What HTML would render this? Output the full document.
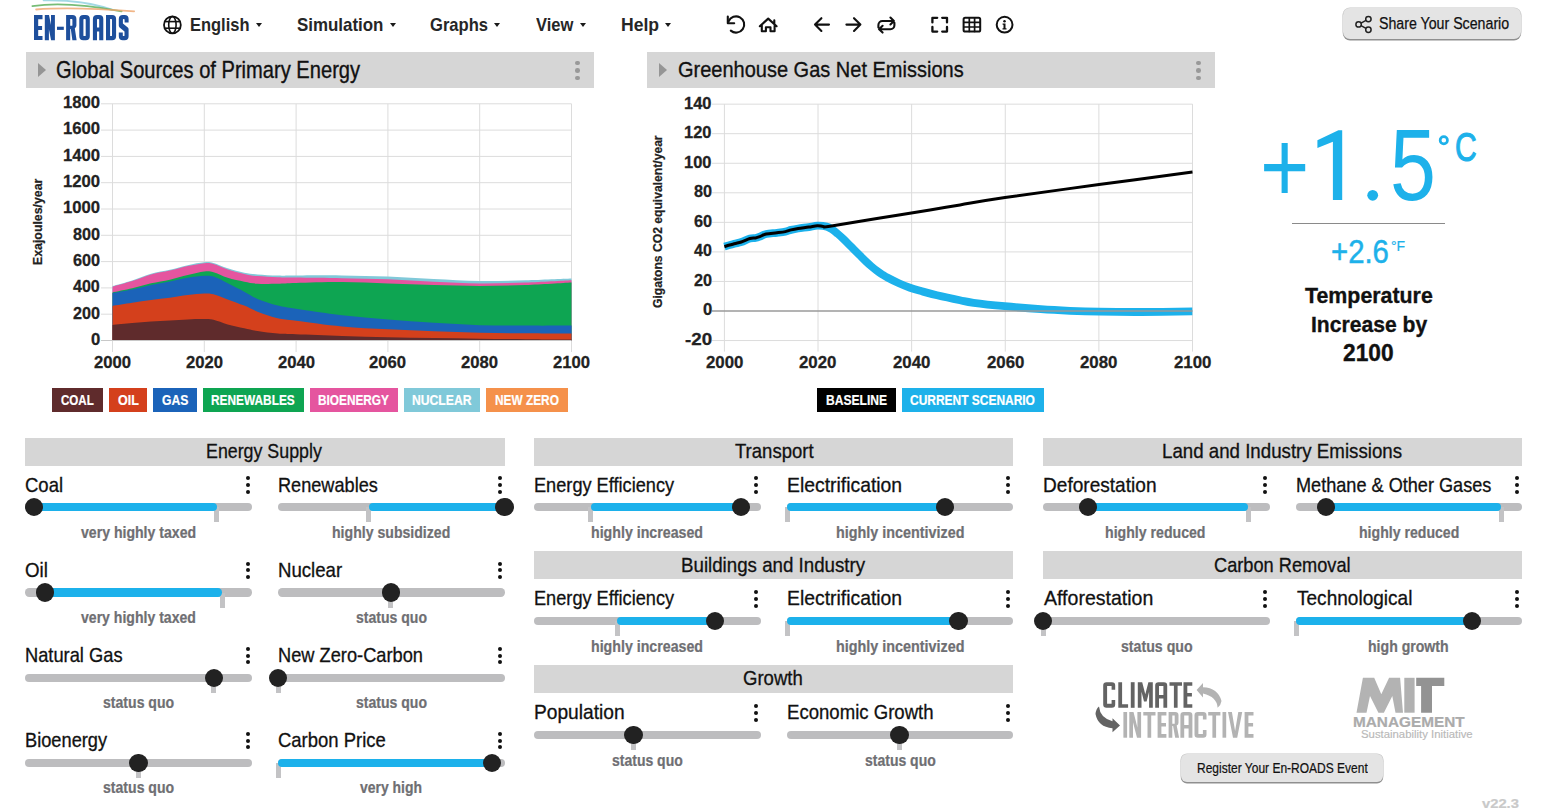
<!DOCTYPE html>
<html lang="en"><head><meta charset="utf-8"><title>En-ROADS</title>
<style>
html,body{margin:0;padding:0;background:#fff;width:1548px;height:810px;overflow:hidden;position:relative;font-family:"Liberation Sans",sans-serif}
.full{position:absolute;left:0;top:0}
.t{position:absolute;white-space:nowrap;line-height:0;transform-origin:0 0}
.dot{position:absolute;width:4.2px;height:4.2px;border-radius:50%;background:#111}
.trk{position:absolute;height:8.4px;border-radius:4.2px;background:#bdbdbf}
.fill{position:absolute;height:8.4px;border-radius:4.2px;background:#1cb1eb}
.tick{position:absolute;width:5px;height:15px;background:#c3c3c5}
.knob{position:absolute;width:18.4px;height:18.4px;border-radius:50%;background:#222}
.caret{position:absolute;top:22.7px;width:0;height:0;border-left:3.9px solid transparent;border-right:3.9px solid transparent;border-top:4.3px solid #1a1a1a;margin-left:-0.3px}
.pbar{position:absolute;top:52.2px;height:36.3px;background:#d6d6d6}
.tri{position:absolute;width:0;height:0;border-top:7.5px solid transparent;border-bottom:7.5px solid transparent;border-left:8.8px solid #959595}
.gdot{position:absolute;width:4.6px;height:4.6px;border-radius:50%;background:#999}
.btn{position:absolute;background:#e4e4e4;border-radius:6px;box-shadow:0 1.5px 0 #8f8f8f, 0 0 0 0.6px #c8c8c8}
</style></head><body>
<!-- header logo -->
<svg class="full" width="1548" height="810" viewBox="0 0 1548 810" style="z-index:0">
  <g fill="none" stroke-linecap="round">
    <path d="M43.6,0.3 Q82,-0.5 112,9.6" stroke="#7cc9d8" stroke-width="1.8" stroke-opacity="0.7"/>
    <path d="M32.4,6.1 C52,3 78,3 121.6,11.3" stroke="#55ad55" stroke-width="1.8" stroke-opacity="0.8"/>
    <path d="M36.1,9.5 Q72,6.6 134.2,11.3" stroke="#eea46a" stroke-width="1.8" stroke-opacity="0.8"/>
  </g>
  <g fill="#1e4f9c">
    <!-- E -->
    <path d="M34,15 h8.5 v4.2 h-4.3 v6.9 h3.9 v3.8 h-3.9 v6 h4.3 v4.2 h-8.5 z"/>
    <!-- N -->
    <path d="M44.8,15 h4.2 l2,10 v-10 h3.9 v25.2 h-3.8 l-2.2,-11 v11 h-4.1 z"/>
    <!-- hyphen -->
    <rect x="57" y="26.7" width="6.8" height="3.2"/>
    <!-- R -->
    <path d="M66.1,15 h6.3 a4,4 0 0 1 4,4 v6.5 a3,3 0 0 1 -1.6,2.7 l1.8,12 h-4.2 l-1.6,-11.2 h-0.6 v11.2 h-4.1 z M70.2,19.1 v6.7 h1.6 a0.6,0.6 0 0 0 0.6,-0.6 v-5.5 a0.6,0.6 0 0 0 -0.6,-0.6 z"/>
    <!-- O -->
    <path d="M83.3,15 h2.5 a4,4 0 0 1 4,4 v17.2 a4,4 0 0 1 -4,4 h-2.5 a4,4 0 0 1 -4,-4 v-17.2 a4,4 0 0 1 4,-4 z M84.1,19.1 a0.7,0.7 0 0 0 -0.7,0.7 v15.6 a0.7,0.7 0 0 0 0.7,0.7 h0.9 a0.7,0.7 0 0 0 0.7,-0.7 v-15.6 a0.7,0.7 0 0 0 -0.7,-0.7 z"/>
    <!-- A -->
    <path d="M96.9,15 h2.4 a4,4 0 0 1 4,4 v21.2 h-4.1 v-8.7 h-2.2 v8.7 h-4.1 v-21.2 a4,4 0 0 1 4,-4 z M97.7,19.1 a0.7,0.7 0 0 0 -0.7,0.7 v7.7 h2.2 v-7.7 a0.7,0.7 0 0 0 -0.7,-0.7 z"/>
    <!-- D -->
    <path d="M106,15 h6.1 a4,4 0 0 1 4,4 v17.2 a4,4 0 0 1 -4,4 h-6.1 z M110.1,19.1 v17 h1.2 a0.7,0.7 0 0 0 0.7,-0.7 v-15.6 a0.7,0.7 0 0 0 -0.7,-0.7 z"/>
    <!-- S -->
    <path d="M122.8,15 h1.8 a4,4 0 0 1 4,4 v3.5 h-4 v-2.7 a0.7,0.7 0 0 0 -0.7,-0.7 h-0.3 a0.7,0.7 0 0 0 -0.7,0.7 v3.6 l4.9,4.2 a2.4,2.4 0 0 1 0.8,1.8 v6.8 a4,4 0 0 1 -4,4 h-1.8 a4,4 0 0 1 -4,-4 v-3.6 h4 v2.8 a0.7,0.7 0 0 0 0.7,0.7 h0.3 a0.7,0.7 0 0 0 0.7,-0.7 v-3.8 l-4.9,-4.2 a2.4,2.4 0 0 1 -0.8,-1.8 v-6.6 a4,4 0 0 1 4,-4 z"/>
  </g>
  <!-- globe -->
  <g fill="none" stroke="#111" stroke-width="1.8">
    <circle cx="172.4" cy="24.9" r="8.4"/>
    <ellipse cx="172.4" cy="24.9" rx="3.7" ry="8.4" stroke-width="1.6"/>
    <line x1="164.6" y1="21.6" x2="180.2" y2="21.6" stroke-width="1.6"/>
    <line x1="164.6" y1="28.2" x2="180.2" y2="28.2" stroke-width="1.6"/>
  </g>
  <!-- toolbar icons -->
  <g fill="none" stroke="#111" stroke-width="2.1" stroke-linecap="round" stroke-linejoin="round">
    <path d="M727.8,16.6 V23.2 H734.2"/>
    <path d="M728.6,21.4 A8.1,8.1 0 1 1 730.8,30.6"/>
    <path d="M759.8,26.2 L768.2,18.6 L776.6,26.2 M774.3,20.2 V24.2 M761.8,24.8 V31.2 H765.9 V27.2 H770.5 V31.2 H774.6 V24.8"/>
    <path d="M829,24.6 H815.2 M821.4,18.2 L815,24.6 L821.4,31"/>
    <path d="M846.4,24.6 H860.4 M854,18.2 L860.4,24.6 L854,31"/>
    <path d="M878.4,27.4 V25 A4,4 0 0 1 882.4,21 H893.8 M890.4,17.6 L893.9,21 L890.4,24.4 M894.4,22.8 V25.2 A4,4 0 0 1 890.4,29.2 H879.2 M882.6,25.8 L879.1,29.2 L882.6,32.6"/>
    <path d="M932.4,22.4 v-4.6 h4.8 M942.2,17.8 h4.8 v4.6 M947,27 v4.6 h-4.8 M937.2,31.6 h-4.8 v-4.6" stroke-width="2.3"/>
    <rect x="963.6" y="17.8" width="16.6" height="13.8" rx="1.6" stroke-width="2"/>
    <path d="M969.3,18 v13.4 M974.6,18 v13.4 M963.8,22.4 h16.2 M963.8,27 h16.2" stroke-width="1.7"/>
    <circle cx="1004.6" cy="24.7" r="7.9" stroke-width="2"/>
  </g>
  <circle cx="1004.5" cy="21.3" r="1.25" fill="#111"/>
  <path d="M1002.6,23.6 h2.9 v4.6 h1 v1.2 h-4 v-1.2 h1 v-3.4 h-0.9 z" fill="#111"/>
</svg>
<!-- share button -->
<div class="btn" style="left:1342.5px;top:8.3px;width:178.6px;height:31px;border-radius:7px"></div>
<div class="btn" style="left:1181.2px;top:754.3px;width:202px;height:27.5px"></div>
<!-- panel bars -->
<div class="pbar" style="left:25.5px;width:568.3px"></div>
<div class="pbar" style="left:646.7px;width:568.1px"></div>
<div class="tri" style="left:38.2px;top:63.2px"></div>
<div class="tri" style="left:659.2px;top:63.0px"></div>
<div class="gdot" style="left:575.4px;top:60.5px"></div><div class="gdot" style="left:575.4px;top:68px"></div><div class="gdot" style="left:575.4px;top:75.6px"></div>
<div class="gdot" style="left:1196px;top:60.5px"></div><div class="gdot" style="left:1196px;top:68px"></div><div class="gdot" style="left:1196px;top:75.6px"></div>
<div class="caret" style="left:256.5px"></div><div class="caret" style="left:390.0px"></div><div class="caret" style="left:494.3px"></div><div class="caret" style="left:580.4px"></div><div class="caret" style="left:665.6px"></div>
<div style="position:absolute;left:51.7px;top:388px;width:51.2px;height:23.6px;background:#5f2b2c"></div>
<div style="position:absolute;left:109.2px;top:388px;width:37.8px;height:23.6px;background:#d4401c"></div>
<div style="position:absolute;left:153.0px;top:388px;width:44.0px;height:23.6px;background:#1b63b9"></div>
<div style="position:absolute;left:202.9px;top:388px;width:100.7px;height:23.6px;background:#0ea552"></div>
<div style="position:absolute;left:310.0px;top:388px;width:88.0px;height:23.6px;background:#e5559f"></div>
<div style="position:absolute;left:404.0px;top:388px;width:76.0px;height:23.6px;background:#80c9d9"></div>
<div style="position:absolute;left:486.3px;top:388px;width:81.4px;height:23.6px;background:#f5914b"></div>
<div style="position:absolute;left:817.0px;top:388px;width:78.7px;height:23.6px;background:#000000"></div>
<div style="position:absolute;left:901.5px;top:388px;width:142.3px;height:23.6px;background:#1db1ea"></div>
<div style="position:absolute;left:25.0px;top:438.0px;width:479.5px;height:28px;background:#d6d6d6"></div>
<div style="position:absolute;left:534.0px;top:438.0px;width:478.6px;height:28px;background:#d6d6d6"></div>
<div style="position:absolute;left:534.0px;top:551.3px;width:478.6px;height:28px;background:#d6d6d6"></div>
<div style="position:absolute;left:534.0px;top:664.8px;width:478.6px;height:28px;background:#d6d6d6"></div>
<div style="position:absolute;left:1043.0px;top:438.0px;width:478.5px;height:28px;background:#d6d6d6"></div>
<div style="position:absolute;left:1043.0px;top:551.3px;width:478.5px;height:28px;background:#d6d6d6"></div>
<div class="dot" style="left:245.5px;top:476.2px"></div>
<div class="dot" style="left:245.5px;top:483.0px"></div>
<div class="dot" style="left:245.5px;top:489.7px"></div>
<div class="trk" style="left:25.0px;top:503.0px;width:227.0px"></div>
<div class="tick" style="left:214.0px;top:507.2px"></div>
<div class="fill" style="left:34.2px;top:503.0px;width:182.8px"></div>
<div class="knob" style="left:25.0px;top:498.0px"></div>
<div class="dot" style="left:498.0px;top:476.2px"></div>
<div class="dot" style="left:498.0px;top:483.0px"></div>
<div class="dot" style="left:498.0px;top:489.7px"></div>
<div class="trk" style="left:278.0px;top:503.0px;width:226.5px"></div>
<div class="tick" style="left:366.0px;top:507.2px"></div>
<div class="fill" style="left:368.5px;top:503.0px;width:136.1px"></div>
<div class="knob" style="left:495.4px;top:498.0px"></div>
<div class="dot" style="left:245.5px;top:561.5px"></div>
<div class="dot" style="left:245.5px;top:568.3px"></div>
<div class="dot" style="left:245.5px;top:575.0px"></div>
<div class="trk" style="left:25.0px;top:588.3px;width:227.0px"></div>
<div class="tick" style="left:219.6px;top:592.5px"></div>
<div class="fill" style="left:45.0px;top:588.3px;width:176.6px"></div>
<div class="knob" style="left:35.8px;top:583.3px"></div>
<div class="dot" style="left:498.0px;top:561.5px"></div>
<div class="dot" style="left:498.0px;top:568.3px"></div>
<div class="dot" style="left:498.0px;top:575.0px"></div>
<div class="trk" style="left:278.0px;top:588.3px;width:226.5px"></div>
<div class="tick" style="left:388.2px;top:592.5px"></div>
<div class="knob" style="left:381.5px;top:583.3px"></div>
<div class="dot" style="left:245.5px;top:646.7px"></div>
<div class="dot" style="left:245.5px;top:653.5px"></div>
<div class="dot" style="left:245.5px;top:660.2px"></div>
<div class="trk" style="left:25.0px;top:673.5px;width:227.0px"></div>
<div class="tick" style="left:211.3px;top:677.7px"></div>
<div class="knob" style="left:204.6px;top:668.5px"></div>
<div class="dot" style="left:498.0px;top:646.7px"></div>
<div class="dot" style="left:498.0px;top:653.5px"></div>
<div class="dot" style="left:498.0px;top:660.2px"></div>
<div class="trk" style="left:278.0px;top:673.5px;width:226.5px"></div>
<div class="tick" style="left:275.5px;top:677.7px"></div>
<div class="knob" style="left:268.5px;top:668.5px"></div>
<div class="dot" style="left:245.5px;top:731.8px"></div>
<div class="dot" style="left:245.5px;top:738.6px"></div>
<div class="dot" style="left:245.5px;top:745.3px"></div>
<div class="trk" style="left:25.0px;top:758.6px;width:227.0px"></div>
<div class="tick" style="left:136.0px;top:762.8px"></div>
<div class="knob" style="left:129.3px;top:753.6px"></div>
<div class="dot" style="left:498.0px;top:731.8px"></div>
<div class="dot" style="left:498.0px;top:738.6px"></div>
<div class="dot" style="left:498.0px;top:745.3px"></div>
<div class="trk" style="left:278.0px;top:758.6px;width:226.5px"></div>
<div class="tick" style="left:275.5px;top:762.8px"></div>
<div class="fill" style="left:278.0px;top:758.6px;width:214.2px"></div>
<div class="knob" style="left:483.0px;top:753.6px"></div>
<div class="dot" style="left:754.0px;top:476.2px"></div>
<div class="dot" style="left:754.0px;top:483.0px"></div>
<div class="dot" style="left:754.0px;top:489.7px"></div>
<div class="trk" style="left:534.0px;top:503.0px;width:226.5px"></div>
<div class="tick" style="left:588.0px;top:507.2px"></div>
<div class="fill" style="left:590.5px;top:503.0px;width:150.5px"></div>
<div class="knob" style="left:731.8px;top:498.0px"></div>
<div class="dot" style="left:1006.1px;top:476.2px"></div>
<div class="dot" style="left:1006.1px;top:483.0px"></div>
<div class="dot" style="left:1006.1px;top:489.7px"></div>
<div class="trk" style="left:787.0px;top:503.0px;width:225.6px"></div>
<div class="tick" style="left:784.5px;top:507.2px"></div>
<div class="fill" style="left:787.0px;top:503.0px;width:157.9px"></div>
<div class="knob" style="left:935.7px;top:498.0px"></div>
<div class="dot" style="left:754.0px;top:590.0px"></div>
<div class="dot" style="left:754.0px;top:596.8px"></div>
<div class="dot" style="left:754.0px;top:603.5px"></div>
<div class="trk" style="left:534.0px;top:616.8px;width:226.5px"></div>
<div class="tick" style="left:614.9px;top:621.0px"></div>
<div class="fill" style="left:617.4px;top:616.8px;width:97.4px"></div>
<div class="knob" style="left:705.6px;top:611.8px"></div>
<div class="dot" style="left:1006.1px;top:590.0px"></div>
<div class="dot" style="left:1006.1px;top:596.8px"></div>
<div class="dot" style="left:1006.1px;top:603.5px"></div>
<div class="trk" style="left:787.0px;top:616.8px;width:225.6px"></div>
<div class="tick" style="left:784.5px;top:621.0px"></div>
<div class="fill" style="left:787.0px;top:616.8px;width:171.4px"></div>
<div class="knob" style="left:949.2px;top:611.8px"></div>
<div class="dot" style="left:754.0px;top:704.0px"></div>
<div class="dot" style="left:754.0px;top:710.8px"></div>
<div class="dot" style="left:754.0px;top:717.5px"></div>
<div class="trk" style="left:534.0px;top:730.8px;width:226.5px"></div>
<div class="tick" style="left:631.0px;top:735.0px"></div>
<div class="knob" style="left:624.3px;top:725.8px"></div>
<div class="dot" style="left:1006.1px;top:704.0px"></div>
<div class="dot" style="left:1006.1px;top:710.8px"></div>
<div class="dot" style="left:1006.1px;top:717.5px"></div>
<div class="trk" style="left:787.0px;top:730.8px;width:225.6px"></div>
<div class="tick" style="left:897.1px;top:735.0px"></div>
<div class="knob" style="left:890.4px;top:725.8px"></div>
<div class="dot" style="left:1263.0px;top:476.2px"></div>
<div class="dot" style="left:1263.0px;top:483.0px"></div>
<div class="dot" style="left:1263.0px;top:489.7px"></div>
<div class="trk" style="left:1043.0px;top:503.0px;width:226.5px"></div>
<div class="tick" style="left:1245.5px;top:507.2px"></div>
<div class="fill" style="left:1088.1px;top:503.0px;width:159.9px"></div>
<div class="knob" style="left:1078.9px;top:498.0px"></div>
<div class="dot" style="left:1515.0px;top:476.2px"></div>
<div class="dot" style="left:1515.0px;top:483.0px"></div>
<div class="dot" style="left:1515.0px;top:489.7px"></div>
<div class="trk" style="left:1296.0px;top:503.0px;width:225.5px"></div>
<div class="tick" style="left:1499.0px;top:507.2px"></div>
<div class="fill" style="left:1326.3px;top:503.0px;width:174.4px"></div>
<div class="knob" style="left:1317.1px;top:498.0px"></div>
<div class="dot" style="left:1263.0px;top:590.0px"></div>
<div class="dot" style="left:1263.0px;top:596.8px"></div>
<div class="dot" style="left:1263.0px;top:603.5px"></div>
<div class="trk" style="left:1043.0px;top:616.8px;width:226.5px"></div>
<div class="tick" style="left:1040.5px;top:621.0px"></div>
<div class="knob" style="left:1033.9px;top:611.8px"></div>
<div class="dot" style="left:1515.0px;top:590.0px"></div>
<div class="dot" style="left:1515.0px;top:596.8px"></div>
<div class="dot" style="left:1515.0px;top:603.5px"></div>
<div class="trk" style="left:1296.0px;top:616.8px;width:225.5px"></div>
<div class="tick" style="left:1293.5px;top:621.0px"></div>
<div class="fill" style="left:1295.7px;top:616.8px;width:176.3px"></div>
<div class="knob" style="left:1462.8px;top:611.8px"></div>
<svg class="full" width="1548" height="810" viewBox="0 0 1548 810">
<line x1="101" y1="340.50" x2="571.5" y2="340.50" stroke="#dcdcdc" stroke-width="1"/><line x1="101" y1="314.20" x2="571.5" y2="314.20" stroke="#dcdcdc" stroke-width="1"/><line x1="101" y1="287.90" x2="571.5" y2="287.90" stroke="#dcdcdc" stroke-width="1"/><line x1="101" y1="261.60" x2="571.5" y2="261.60" stroke="#dcdcdc" stroke-width="1"/><line x1="101" y1="235.30" x2="571.5" y2="235.30" stroke="#dcdcdc" stroke-width="1"/><line x1="101" y1="209.00" x2="571.5" y2="209.00" stroke="#dcdcdc" stroke-width="1"/><line x1="101" y1="182.70" x2="571.5" y2="182.70" stroke="#dcdcdc" stroke-width="1"/><line x1="101" y1="156.40" x2="571.5" y2="156.40" stroke="#dcdcdc" stroke-width="1"/><line x1="101" y1="130.10" x2="571.5" y2="130.10" stroke="#dcdcdc" stroke-width="1"/><line x1="101" y1="103.80" x2="571.5" y2="103.80" stroke="#dcdcdc" stroke-width="1"/><line x1="112.50" y1="103.8" x2="112.50" y2="352" stroke="#dcdcdc" stroke-width="1"/><line x1="204.30" y1="103.8" x2="204.30" y2="352" stroke="#dcdcdc" stroke-width="1"/><line x1="296.10" y1="103.8" x2="296.10" y2="352" stroke="#dcdcdc" stroke-width="1"/><line x1="387.90" y1="103.8" x2="387.90" y2="352" stroke="#dcdcdc" stroke-width="1"/><line x1="479.70" y1="103.8" x2="479.70" y2="352" stroke="#dcdcdc" stroke-width="1"/><line x1="571.50" y1="103.8" x2="571.50" y2="352" stroke="#dcdcdc" stroke-width="1"/><path d="M112.50,286.00 C115.79,285.07 125.81,282.45 132.24,280.40 C138.66,278.35 144.78,275.47 151.06,273.70 C157.33,271.93 163.75,271.22 169.88,269.80 C176.00,268.38 182.04,266.45 187.78,265.20 C193.51,263.95 200.02,262.67 204.30,262.30 C208.58,261.93 209.58,262.00 213.48,263.00 C217.38,264.00 222.58,266.67 227.71,268.30 C232.83,269.93 239.26,271.78 244.23,272.80 C249.21,273.82 251.96,273.93 257.54,274.40 C263.13,274.87 271.31,275.42 277.74,275.60 C284.17,275.78 285.39,275.53 296.10,275.50 C306.81,275.47 326.70,275.23 342.00,275.40 C357.30,275.57 372.60,275.90 387.90,276.50 C403.20,277.10 418.50,278.25 433.80,279.00 C449.10,279.75 464.40,280.80 479.70,281.00 C495.00,281.20 510.30,280.63 525.60,280.20 C540.90,279.77 563.85,278.70 571.50,278.40 L571.50,340.50 L112.50,340.50 Z" fill="#80c9d9"/><path d="M112.50,286.70 C115.79,285.77 125.81,283.15 132.24,281.10 C138.66,279.05 144.78,276.15 151.06,274.40 C157.33,272.65 163.75,271.98 169.88,270.60 C176.00,269.22 182.04,267.33 187.78,266.10 C193.51,264.87 200.02,263.57 204.30,263.20 C208.58,262.83 209.58,262.87 213.48,263.90 C217.38,264.93 222.58,267.73 227.71,269.40 C232.83,271.07 239.26,272.78 244.23,273.90 C249.21,275.02 251.96,275.55 257.54,276.10 C263.13,276.65 271.31,276.95 277.74,277.20 C284.17,277.45 285.39,277.43 296.10,277.60 C306.81,277.77 326.70,277.92 342.00,278.20 C357.30,278.48 372.60,278.70 387.90,279.30 C403.20,279.90 418.50,281.12 433.80,281.80 C449.10,282.48 464.40,283.28 479.70,283.40 C495.00,283.52 510.30,283.03 525.60,282.50 C540.90,281.97 563.85,280.58 571.50,280.20 L571.50,340.50 L112.50,340.50 Z" fill="#e5559f"/><path d="M112.50,292.40 C115.79,291.72 125.81,289.82 132.24,288.30 C138.66,286.78 144.78,284.73 151.06,283.30 C157.33,281.87 163.75,281.08 169.88,279.70 C176.00,278.32 182.04,276.37 187.78,275.00 C193.51,273.63 200.02,271.97 204.30,271.50 C208.58,271.03 209.58,271.15 213.48,272.20 C217.38,273.25 222.58,276.22 227.71,277.80 C232.83,279.38 239.26,280.72 244.23,281.70 C249.21,282.68 251.96,283.37 257.54,283.70 C263.13,284.03 271.31,283.82 277.74,283.70 C284.17,283.58 285.39,283.27 296.10,283.00 C306.81,282.73 326.70,282.03 342.00,282.10 C357.30,282.17 372.60,282.92 387.90,283.40 C403.20,283.88 418.50,284.58 433.80,285.00 C449.10,285.42 464.40,285.90 479.70,285.90 C495.00,285.90 510.30,285.57 525.60,285.00 C540.90,284.43 563.85,282.92 571.50,282.50 L571.50,340.50 L112.50,340.50 Z" fill="#0ea552"/><path d="M112.50,293.00 C115.79,292.40 125.81,290.73 132.24,289.40 C138.66,288.07 144.78,286.33 151.06,285.00 C157.33,283.67 163.75,282.60 169.88,281.40 C176.00,280.20 182.04,278.73 187.78,277.80 C193.51,276.87 200.02,276.00 204.30,275.80 C208.58,275.60 209.58,275.35 213.48,276.60 C217.38,277.85 222.58,280.78 227.71,283.30 C232.83,285.82 239.26,289.10 244.23,291.70 C249.21,294.30 251.96,296.58 257.54,298.90 C263.13,301.22 271.31,303.95 277.74,305.60 C284.17,307.25 285.39,307.18 296.10,308.80 C306.81,310.42 326.70,313.50 342.00,315.30 C357.30,317.10 372.60,318.35 387.90,319.60 C403.20,320.85 418.50,321.87 433.80,322.80 C449.10,323.73 464.40,324.73 479.70,325.20 C495.00,325.67 510.30,325.53 525.60,325.60 C540.90,325.67 563.85,325.60 571.50,325.60 L571.50,340.50 L112.50,340.50 Z" fill="#1b63b9"/><path d="M112.50,305.90 C115.79,305.38 125.81,303.78 132.24,302.80 C138.66,301.82 144.78,300.83 151.06,300.00 C157.33,299.17 163.75,298.63 169.88,297.80 C176.00,296.97 182.04,295.72 187.78,295.00 C193.51,294.28 200.02,293.63 204.30,293.50 C208.58,293.37 209.58,293.22 213.48,294.20 C217.38,295.18 222.58,297.50 227.71,299.40 C232.83,301.30 239.26,303.55 244.23,305.60 C249.21,307.65 251.96,309.58 257.54,311.70 C263.13,313.82 271.31,316.78 277.74,318.30 C284.17,319.82 285.39,319.43 296.10,320.80 C306.81,322.17 326.70,325.08 342.00,326.50 C357.30,327.92 372.60,328.50 387.90,329.30 C403.20,330.10 418.50,330.73 433.80,331.30 C449.10,331.87 464.40,332.37 479.70,332.70 C495.00,333.03 510.30,333.15 525.60,333.30 C540.90,333.45 563.85,333.55 571.50,333.60 L571.50,340.50 L112.50,340.50 Z" fill="#d4401c"/><path d="M112.50,324.90 C115.79,324.58 125.81,323.58 132.24,323.00 C138.66,322.42 144.78,321.80 151.06,321.40 C157.33,321.00 163.75,320.93 169.88,320.60 C176.00,320.27 182.04,319.67 187.78,319.40 C193.51,319.13 200.02,318.93 204.30,319.00 C208.58,319.07 209.58,318.90 213.48,319.80 C217.38,320.70 222.58,322.98 227.71,324.40 C232.83,325.82 239.26,327.18 244.23,328.30 C249.21,329.42 251.96,330.22 257.54,331.10 C263.13,331.98 271.31,333.08 277.74,333.60 C284.17,334.12 285.39,333.82 296.10,334.20 C306.81,334.58 326.70,335.40 342.00,335.90 C357.30,336.40 372.60,336.85 387.90,337.20 C403.20,337.55 418.50,337.75 433.80,338.00 C449.10,338.25 464.40,338.50 479.70,338.70 C495.00,338.90 510.30,339.05 525.60,339.20 C540.90,339.35 563.85,339.53 571.50,339.60 L571.50,340.50 L112.50,340.50 Z" fill="#5f2b2c"/><line x1="101" y1="340.5" x2="571.5" y2="340.5" stroke="#c8c8c8" stroke-width="1"/>
<line x1="712" y1="340.55" x2="1192.5" y2="340.55" stroke="#dcdcdc" stroke-width="1"/><line x1="712" y1="281.45" x2="1192.5" y2="281.45" stroke="#dcdcdc" stroke-width="1"/><line x1="712" y1="251.90" x2="1192.5" y2="251.90" stroke="#dcdcdc" stroke-width="1"/><line x1="712" y1="222.35" x2="1192.5" y2="222.35" stroke="#dcdcdc" stroke-width="1"/><line x1="712" y1="192.80" x2="1192.5" y2="192.80" stroke="#dcdcdc" stroke-width="1"/><line x1="712" y1="163.25" x2="1192.5" y2="163.25" stroke="#dcdcdc" stroke-width="1"/><line x1="712" y1="133.70" x2="1192.5" y2="133.70" stroke="#dcdcdc" stroke-width="1"/><line x1="712" y1="104.15" x2="1192.5" y2="104.15" stroke="#dcdcdc" stroke-width="1"/><line x1="724.40" y1="104.1" x2="724.40" y2="351.6" stroke="#dcdcdc" stroke-width="1"/><line x1="818.02" y1="104.1" x2="818.02" y2="351.6" stroke="#dcdcdc" stroke-width="1"/><line x1="911.64" y1="104.1" x2="911.64" y2="351.6" stroke="#dcdcdc" stroke-width="1"/><line x1="1005.26" y1="104.1" x2="1005.26" y2="351.6" stroke="#dcdcdc" stroke-width="1"/><line x1="1098.88" y1="104.1" x2="1098.88" y2="351.6" stroke="#dcdcdc" stroke-width="1"/><line x1="1192.50" y1="104.1" x2="1192.50" y2="351.6" stroke="#dcdcdc" stroke-width="1"/><path d="M724.40,246.60 C726.03,246.13 731.38,244.57 734.20,243.80 C737.02,243.03 738.68,242.88 741.30,242.00 C743.92,241.12 747.53,239.17 749.90,238.50 C752.27,237.83 753.85,238.30 755.50,238.00 C757.15,237.70 758.02,237.37 759.80,236.70 C761.58,236.03 763.35,234.65 766.20,234.00 C769.05,233.35 773.70,233.20 776.90,232.80 C780.10,232.40 783.03,232.08 785.40,231.60 C787.77,231.12 788.97,230.42 791.10,229.90 C793.23,229.38 795.25,228.97 798.20,228.50 C801.15,228.03 805.60,227.57 808.80,227.10 C812.00,226.63 814.42,225.78 817.40,225.70 C820.38,225.62 824.23,225.98 826.70,226.60 C829.17,227.22 830.35,228.18 832.20,229.40 C834.05,230.62 835.95,232.32 837.80,233.90 C839.65,235.48 841.45,237.15 843.30,238.90 C845.15,240.65 847.05,242.55 848.90,244.40 C850.75,246.25 852.55,248.13 854.40,250.00 C856.25,251.87 858.13,253.75 860.00,255.60 C861.87,257.45 863.75,259.35 865.60,261.10 C867.45,262.85 869.25,264.52 871.10,266.10 C872.95,267.68 874.85,269.22 876.70,270.60 C878.55,271.98 880.35,273.20 882.20,274.40 C884.05,275.60 885.02,276.32 887.80,277.80 C890.58,279.28 895.20,281.63 898.90,283.30 C902.60,284.97 906.30,286.50 910.00,287.80 C913.70,289.10 916.60,289.85 921.10,291.10 C925.60,292.35 930.52,293.77 937.00,295.30 C943.48,296.83 953.90,299.05 960.00,300.30 C966.10,301.55 966.15,301.82 973.60,302.80 C981.05,303.78 993.50,305.13 1004.70,306.20 C1015.90,307.27 1029.92,308.43 1040.80,309.20 C1051.68,309.97 1060.27,310.38 1070.00,310.80 C1079.73,311.22 1087.28,311.50 1099.20,311.70 C1111.12,311.90 1125.98,312.05 1141.50,312.00 C1157.02,311.95 1183.83,311.50 1192.30,311.40" fill="none" stroke="#1cb1eb" stroke-width="7.8" stroke-linejoin="round"/><line x1="712" y1="311.0" x2="1192.5" y2="311.0" stroke="#9a9a9a" stroke-width="1.6"/><path d="M724.40,246.60 C726.03,246.13 731.38,244.57 734.20,243.80 C737.02,243.03 738.68,242.88 741.30,242.00 C743.92,241.12 747.53,239.17 749.90,238.50 C752.27,237.83 753.85,238.30 755.50,238.00 C757.15,237.70 758.02,237.37 759.80,236.70 C761.58,236.03 763.35,234.65 766.20,234.00 C769.05,233.35 773.70,233.20 776.90,232.80 C780.10,232.40 783.03,232.08 785.40,231.60 C787.77,231.12 788.97,230.42 791.10,229.90 C793.23,229.38 795.25,228.97 798.20,228.50 C801.15,228.03 805.60,227.57 808.80,227.10 C812.00,226.63 815.02,225.82 817.40,225.70 C819.78,225.58 821.00,226.32 823.10,226.40 C825.20,226.48 820.52,227.60 830.00,226.20 C839.48,224.80 863.33,220.70 880.00,218.00 C896.67,215.30 916.67,212.18 930.00,210.00 C943.33,207.82 947.50,206.98 960.00,204.90 C972.50,202.82 981.83,200.88 1005.00,197.50 C1028.17,194.12 1067.75,188.85 1099.00,184.60 C1130.25,180.35 1176.92,174.10 1192.50,172.00" fill="none" stroke="#000" stroke-width="3" stroke-linejoin="round"/>
</svg>
<svg class="full" width="1548" height="810" viewBox="0 0 1548 810">
  <path d="M1338.4,130.2 L1342.2,130.2 L1342.2,199.9 L1332.9,199.9 L1332.9,141.8 L1317.4,148 L1317.4,140.2 Z" fill="#1db1ea"/>
  <circle cx="1372.7" cy="195.3" r="5.4" fill="#1db1ea"/>
  <circle cx="1443.8" cy="140.3" r="3.65" fill="none" stroke="#1db1ea" stroke-width="2.7"/>
</svg>
<!-- temperature divider -->
<div style="position:absolute;left:1291.9px;top:222.8px;width:153px;height:1.3px;background:#8a8a8a"></div>
<!-- logos -->
<svg class="full" width="1548" height="810" viewBox="0 0 1548 810">
  <g fill="#636363">
    <!-- C -->
    <path d="M1106.5,682.2 h5.4 a3.3,3.3 0 0 1 3.3,3.3 v4.3 h-3.6 v-3.7 h-4.5 v17.7 h4.5 v-3.7 h3.6 v4.3 a3.3,3.3 0 0 1 -3.3,3.3 h-5.4 a3.3,3.3 0 0 1 -3.3,-3.3 v-18.9 a3.3,3.3 0 0 1 3.3,-3.3 z"/>
    <!-- L -->
    <path d="M1118.3,682.2 h3.8 v22 h6 v3.6 h-9.8 z"/>
    <!-- I -->
    <rect x="1130.8" y="682.2" width="3.8" height="25.6"/>
    <!-- M -->
    <path d="M1137.8,682.2 h4.4 l3.1,12 l3.1,-12 h4.4 v25.6 h-3.7 v-16 l-2.5,9.6 h-2.6 l-2.5,-9.6 v16 h-3.7 z"/>
    <!-- A -->
    <path d="M1158.5,682.2 h5.4 a3.3,3.3 0 0 1 3.3,3.3 v22.3 h-3.8 v-9.2 h-4.4 v9.2 h-3.8 v-22.3 a3.3,3.3 0 0 1 3.3,-3.3 z M1159,686 v9 h4.4 v-9 z"/>
    <!-- T -->
    <path d="M1169.5,682.2 h12.5 v3.6 h-4.4 v22 h-3.7 v-22 h-4.4 z"/>
    <!-- E -->
    <path d="M1183.5,682.2 h8.8 v3.6 h-5 v7.2 h4.6 v3.5 h-4.6 v7.7 h5 v3.6 h-8.8 z"/>
  </g>
  <g fill="#b3b3b3">
    <rect x="1123.4" y="712" width="3.7" height="25.7"/>
    <path d="M1129.3,712 h4.2 l3.9,15.5 v-15.5 h3.7 v25.7 h-4.1 l-4,-15.5 v15.5 h-3.7 z"/>
    <path d="M1143.3,712 h12.2 v3.6 h-4.3 v22.1 h-3.7 v-22.1 h-4.2 z"/>
    <path d="M1157.6,712 h8.8 v3.6 h-5 v7.3 h4.6 v3.5 h-4.6 v7.7 h5 v3.6 h-8.8 z"/>
    <path d="M1168.6,712 h6.6 a3.3,3.3 0 0 1 3.3,3.3 v7.5 a3,3 0 0 1 -1.8,2.8 l2.4,12.1 h-3.9 l-2.1,-11.7 h-0.8 v11.7 h-3.7 z M1172.3,715.6 v8.1 h2.4 v-8.1 z"/>
    <path d="M1183.7,712 h5.4 a3.3,3.3 0 0 1 3.3,3.3 v22.4 h-3.8 v-9.2 h-4.4 v9.2 h-3.8 v-22.4 a3.3,3.3 0 0 1 3.3,-3.3 z M1184.2,715.6 v9.4 h4.4 v-9.4 z"/>
    <path d="M1197.8,712 h5.4 a3.3,3.3 0 0 1 3.3,3.3 v4.3 h-3.6 v-3.9 h-4.5 v18.3 h4.5 v-3.9 h3.6 v4.3 a3.3,3.3 0 0 1 -3.3,3.3 h-5.4 a3.3,3.3 0 0 1 -3.3,-3.3 v-19.1 a3.3,3.3 0 0 1 3.3,-3.3 z"/>
    <path d="M1208.2,712 h12.2 v3.6 h-4.3 v22.1 h-3.7 v-22.1 h-4.2 z"/>
    <rect x="1222.5" y="712" width="3.7" height="25.7"/>
    <path d="M1228,712 h3.9 l3.2,19 l3.2,-19 h3.9 l-5,25.7 h-4.2 z"/>
    <path d="M1244.6,712 h8.9 v3.6 h-5.1 v7.3 h4.7 v3.5 h-4.7 v7.7 h5.1 v3.6 h-8.9 z"/>
  </g>
  <!-- CI arrows -->
  <path d="M1196.6,690 L1203,683 L1203,687.3 Q1218,688 1221.5,701 Q1221,705 1217.6,707.8 Q1217,697 1203,693.6 L1203,697.4 Z" fill="#b3b3b3"/>
  <path d="M1120,725.5 L1112.5,732.3 L1112.5,728.2 Q1098,727 1095.5,714 Q1096,709 1099,706.6 Q1100,718 1112.5,721.3 L1112.5,718.3 Z" fill="#636363"/>
  <!-- share icon -->
  <g fill="none" stroke="#222" stroke-width="1.5">
    <circle cx="1358.6" cy="24.4" r="2.7"/>
    <circle cx="1368.4" cy="19.1" r="2.7"/>
    <circle cx="1368.4" cy="29.7" r="2.7"/>
    <path d="M1361,23.1 L1366,20.4 M1361,25.7 L1366,28.4"/>
  </g>
  <!-- MIT -->
  <path d="M1356.5,712.7 L1362.9,677.8 L1374.2,677.8 L1381.3,694.3 L1389.1,677.8 L1400.1,677.8 L1403,712.7 L1395.5,712.7 L1392.3,695.9 L1383.9,712.7 L1378.4,712.7 L1370,695.9 L1366.5,712.7 Z" fill="#b3b3b3"/>
  <rect x="1404.3" y="677.8" width="10.3" height="34.9" fill="#b1b1b1"/>
  <path d="M1416.2,677.8 h28.1 v8.1 h-12.3 v26.8 h-10.9 v-26.8 h-4.9 z" fill="#939393"/>
</svg>
<div class="t" style="left:190.23px;top:24.55px;font-size:18.02px;font-weight:700;color:#262626;transform:scaleX(0.9137);/*stroke*/">English</div>
<div class="t" style="left:296.68px;top:24.55px;font-size:18.02px;font-weight:700;color:#262626;transform:scaleX(0.9384);/*stroke*/">Simulation</div>
<div class="t" style="left:429.84px;top:24.55px;font-size:18.02px;font-weight:700;color:#262626;transform:scaleX(0.9202);/*stroke*/">Graphs</div>
<div class="t" style="left:535.62px;top:24.55px;font-size:18.02px;font-weight:700;color:#262626;transform:scaleX(0.9166);/*stroke*/">View</div>
<div class="t" style="left:621.06px;top:24.55px;font-size:18.02px;font-weight:700;color:#262626;transform:scaleX(0.9745);/*stroke*/">Help</div>
<div class="t" style="left:1378.66px;top:23.86px;font-size:16.86px;font-weight:400;color:#111;transform:scaleX(0.8416);-webkit-text-stroke:0.25px #111;">Share Your Scenario</div>
<div class="t" style="left:56.49px;top:69.79px;font-size:23.11px;font-weight:400;color:#111;transform:scaleX(0.8705);-webkit-text-stroke:0.35px #111;">Global Sources of Primary Energy</div>
<div class="t" style="left:678.00px;top:69.89px;font-size:22.24px;font-weight:400;color:#111;transform:scaleX(0.8994);-webkit-text-stroke:0.33px #111;">Greenhouse Gas Net Emissions</div>
<div class="t" style="left:90.82px;top:338.86px;font-size:17.15px;font-weight:700;color:#222;transform:scaleX(0.9738);-webkit-text-stroke:0.26px #222;">0</div>
<div class="t" style="left:73.01px;top:312.56px;font-size:17.15px;font-weight:700;color:#222;transform:scaleX(0.9461);-webkit-text-stroke:0.26px #222;">200</div>
<div class="t" style="left:73.26px;top:286.26px;font-size:17.15px;font-weight:700;color:#222;transform:scaleX(0.9373);-webkit-text-stroke:0.26px #222;">400</div>
<div class="t" style="left:72.93px;top:259.96px;font-size:17.15px;font-weight:700;color:#222;transform:scaleX(0.9491);-webkit-text-stroke:0.26px #222;">600</div>
<div class="t" style="left:73.01px;top:233.66px;font-size:17.15px;font-weight:700;color:#222;transform:scaleX(0.9461);-webkit-text-stroke:0.26px #222;">800</div>
<div class="t" style="left:63.00px;top:207.36px;font-size:17.15px;font-weight:700;color:#222;transform:scaleX(0.9725);-webkit-text-stroke:0.26px #222;">1000</div>
<div class="t" style="left:63.00px;top:181.06px;font-size:17.15px;font-weight:700;color:#222;transform:scaleX(0.9725);-webkit-text-stroke:0.26px #222;">1200</div>
<div class="t" style="left:63.00px;top:154.76px;font-size:17.15px;font-weight:700;color:#222;transform:scaleX(0.9725);-webkit-text-stroke:0.26px #222;">1400</div>
<div class="t" style="left:63.00px;top:128.46px;font-size:17.15px;font-weight:700;color:#222;transform:scaleX(0.9725);-webkit-text-stroke:0.26px #222;">1600</div>
<div class="t" style="left:63.00px;top:102.16px;font-size:17.15px;font-weight:700;color:#222;transform:scaleX(0.9725);-webkit-text-stroke:0.26px #222;">1800</div>
<div class="t" style="left:94.00px;top:361.76px;font-size:17.15px;font-weight:700;color:#222;transform:scaleX(0.9724);-webkit-text-stroke:0.26px #222;">2000</div>
<div class="t" style="left:185.80px;top:361.76px;font-size:17.15px;font-weight:700;color:#222;transform:scaleX(0.9724);-webkit-text-stroke:0.26px #222;">2020</div>
<div class="t" style="left:277.60px;top:361.76px;font-size:17.15px;font-weight:700;color:#222;transform:scaleX(0.9724);-webkit-text-stroke:0.26px #222;">2040</div>
<div class="t" style="left:369.40px;top:361.76px;font-size:17.15px;font-weight:700;color:#222;transform:scaleX(0.9724);-webkit-text-stroke:0.26px #222;">2060</div>
<div class="t" style="left:461.20px;top:361.76px;font-size:17.15px;font-weight:700;color:#222;transform:scaleX(0.9724);-webkit-text-stroke:0.26px #222;">2080</div>
<div class="t" style="left:553.00px;top:361.76px;font-size:17.15px;font-weight:700;color:#222;transform:scaleX(0.9724);-webkit-text-stroke:0.26px #222;">2100</div>
<div class="t" style="left:684.74px;top:338.91px;font-size:17.15px;font-weight:700;color:#222;transform:scaleX(1.0947);-webkit-text-stroke:0.26px #222;">-20</div>
<div class="t" style="left:702.52px;top:309.36px;font-size:17.15px;font-weight:700;color:#222;transform:scaleX(0.9738);-webkit-text-stroke:0.26px #222;">0</div>
<div class="t" style="left:693.71px;top:279.81px;font-size:17.15px;font-weight:700;color:#222;transform:scaleX(0.9475);-webkit-text-stroke:0.26px #222;">20</div>
<div class="t" style="left:693.96px;top:250.26px;font-size:17.15px;font-weight:700;color:#222;transform:scaleX(0.9341);-webkit-text-stroke:0.26px #222;">40</div>
<div class="t" style="left:693.63px;top:220.71px;font-size:17.15px;font-weight:700;color:#222;transform:scaleX(0.9520);-webkit-text-stroke:0.26px #222;">60</div>
<div class="t" style="left:693.71px;top:191.16px;font-size:17.15px;font-weight:700;color:#222;transform:scaleX(0.9475);-webkit-text-stroke:0.26px #222;">80</div>
<div class="t" style="left:684.31px;top:161.61px;font-size:17.15px;font-weight:700;color:#222;transform:scaleX(0.9604);-webkit-text-stroke:0.26px #222;">100</div>
<div class="t" style="left:684.31px;top:132.06px;font-size:17.15px;font-weight:700;color:#222;transform:scaleX(0.9604);-webkit-text-stroke:0.26px #222;">120</div>
<div class="t" style="left:684.31px;top:102.51px;font-size:17.15px;font-weight:700;color:#222;transform:scaleX(0.9604);-webkit-text-stroke:0.26px #222;">140</div>
<div class="t" style="left:705.69px;top:361.66px;font-size:17.15px;font-weight:700;color:#222;transform:scaleX(0.9833);-webkit-text-stroke:0.26px #222;">2000</div>
<div class="t" style="left:799.31px;top:361.66px;font-size:17.15px;font-weight:700;color:#222;transform:scaleX(0.9833);-webkit-text-stroke:0.26px #222;">2020</div>
<div class="t" style="left:892.93px;top:361.66px;font-size:17.15px;font-weight:700;color:#222;transform:scaleX(0.9833);-webkit-text-stroke:0.26px #222;">2040</div>
<div class="t" style="left:986.55px;top:361.66px;font-size:17.15px;font-weight:700;color:#222;transform:scaleX(0.9833);-webkit-text-stroke:0.26px #222;">2060</div>
<div class="t" style="left:1080.17px;top:361.66px;font-size:17.15px;font-weight:700;color:#222;transform:scaleX(0.9833);-webkit-text-stroke:0.26px #222;">2080</div>
<div class="t" style="left:1173.79px;top:361.66px;font-size:17.15px;font-weight:700;color:#222;transform:scaleX(0.9833);-webkit-text-stroke:0.26px #222;">2100</div>
<div class="t" style="left:61.04px;top:399.56px;font-size:15.41px;font-weight:700;color:#fff;transform:scaleX(0.7506);-webkit-text-stroke:0.23px #fff;">COAL</div>
<div class="t" style="left:118.00px;top:399.56px;font-size:15.41px;font-weight:700;color:#fff;transform:scaleX(0.8110);-webkit-text-stroke:0.23px #fff;">OIL</div>
<div class="t" style="left:161.81px;top:399.56px;font-size:15.41px;font-weight:700;color:#fff;transform:scaleX(0.7919);-webkit-text-stroke:0.23px #fff;">GAS</div>
<div class="t" style="left:211.23px;top:399.56px;font-size:15.41px;font-weight:700;color:#fff;transform:scaleX(0.7700);-webkit-text-stroke:0.23px #fff;">RENEWABLES</div>
<div class="t" style="left:318.23px;top:399.56px;font-size:15.41px;font-weight:700;color:#fff;transform:scaleX(0.7669);-webkit-text-stroke:0.23px #fff;">BIOENERGY</div>
<div class="t" style="left:411.71px;top:399.56px;font-size:15.41px;font-weight:700;color:#fff;transform:scaleX(0.7900);-webkit-text-stroke:0.23px #fff;">NUCLEAR</div>
<div class="t" style="left:495.03px;top:399.56px;font-size:15.41px;font-weight:700;color:#fff;transform:scaleX(0.7699);-webkit-text-stroke:0.23px #fff;">NEW ZERO</div>
<div class="t" style="left:825.92px;top:399.56px;font-size:15.41px;font-weight:700;color:#fff;transform:scaleX(0.7835);-webkit-text-stroke:0.23px #fff;">BASELINE</div>
<div class="t" style="left:910.32px;top:399.56px;font-size:15.41px;font-weight:700;color:#fff;transform:scaleX(0.7763);-webkit-text-stroke:0.23px #fff;">CURRENT SCENARIO</div>
<div class="t" style="left:1305.49px;top:294.84px;font-size:22.97px;font-weight:700;color:#111;transform:scaleX(0.9299);-webkit-text-stroke:0.34px #111;">Temperature</div>
<div class="t" style="left:1310.53px;top:324.44px;font-size:22.97px;font-weight:700;color:#111;transform:scaleX(0.9194);-webkit-text-stroke:0.34px #111;">Increase by</div>
<div class="t" style="left:1343.02px;top:353.18px;font-size:24.29px;font-weight:700;color:#111;transform:scaleX(0.9364);-webkit-text-stroke:0.36px #111;">2100</div>
<div class="t" style="left:205.87px;top:451.40px;font-size:20.78px;font-weight:400;color:#111;transform:scaleX(0.8575);-webkit-text-stroke:0.31px #111;">Energy Supply</div>
<div class="t" style="left:734.63px;top:451.40px;font-size:20.78px;font-weight:400;color:#111;transform:scaleX(0.8917);-webkit-text-stroke:0.31px #111;">Transport</div>
<div class="t" style="left:680.70px;top:564.70px;font-size:20.78px;font-weight:400;color:#111;transform:scaleX(0.9012);-webkit-text-stroke:0.31px #111;">Buildings and Industry</div>
<div class="t" style="left:743.47px;top:678.20px;font-size:20.78px;font-weight:400;color:#111;transform:scaleX(0.8936);-webkit-text-stroke:0.31px #111;">Growth</div>
<div class="t" style="left:1161.90px;top:451.40px;font-size:20.78px;font-weight:400;color:#111;transform:scaleX(0.9002);-webkit-text-stroke:0.31px #111;">Land and Industry Emissions</div>
<div class="t" style="left:1214.19px;top:564.70px;font-size:20.78px;font-weight:400;color:#111;transform:scaleX(0.8768);-webkit-text-stroke:0.31px #111;">Carbon Removal</div>
<div class="t" style="left:25.17px;top:484.60px;font-size:20.20px;font-weight:400;color:#111;transform:scaleX(0.9164);-webkit-text-stroke:0.30px #111;">Coal</div>
<div class="t" style="left:81.30px;top:532.79px;font-size:15.60px;font-weight:700;color:#6f6f73;transform:scaleX(0.9033);-webkit-text-stroke:0.23px #6f6f73;">very highly taxed</div>
<div class="t" style="left:277.65px;top:484.60px;font-size:20.20px;font-weight:400;color:#111;transform:scaleX(0.8984);-webkit-text-stroke:0.30px #111;">Renewables</div>
<div class="t" style="left:331.68px;top:532.79px;font-size:15.60px;font-weight:700;color:#6f6f73;transform:scaleX(0.9042);-webkit-text-stroke:0.23px #6f6f73;">highly subsidized</div>
<div class="t" style="left:25.26px;top:569.90px;font-size:20.20px;font-weight:400;color:#111;transform:scaleX(0.9278);-webkit-text-stroke:0.30px #111;">Oil</div>
<div class="t" style="left:81.20px;top:618.09px;font-size:15.60px;font-weight:700;color:#6f6f73;transform:scaleX(0.9017);-webkit-text-stroke:0.23px #6f6f73;">very highly taxed</div>
<div class="t" style="left:277.61px;top:569.90px;font-size:20.20px;font-weight:400;color:#111;transform:scaleX(0.9227);-webkit-text-stroke:0.30px #111;">Nuclear</div>
<div class="t" style="left:355.51px;top:618.09px;font-size:15.60px;font-weight:700;color:#6f6f73;transform:scaleX(0.9002);-webkit-text-stroke:0.23px #6f6f73;">status quo</div>
<div class="t" style="left:24.64px;top:655.10px;font-size:20.20px;font-weight:400;color:#111;transform:scaleX(0.9055);-webkit-text-stroke:0.30px #111;">Natural Gas</div>
<div class="t" style="left:103.01px;top:703.29px;font-size:15.60px;font-weight:700;color:#6f6f73;transform:scaleX(0.9027);-webkit-text-stroke:0.23px #6f6f73;">status quo</div>
<div class="t" style="left:277.64px;top:655.10px;font-size:20.20px;font-weight:400;color:#111;transform:scaleX(0.9036);-webkit-text-stroke:0.30px #111;">New Zero-Carbon</div>
<div class="t" style="left:355.51px;top:703.29px;font-size:15.60px;font-weight:700;color:#6f6f73;transform:scaleX(0.9002);-webkit-text-stroke:0.23px #6f6f73;">status quo</div>
<div class="t" style="left:24.64px;top:740.20px;font-size:20.20px;font-weight:400;color:#111;transform:scaleX(0.9031);-webkit-text-stroke:0.30px #111;">Bioenergy</div>
<div class="t" style="left:103.01px;top:788.39px;font-size:15.60px;font-weight:700;color:#6f6f73;transform:scaleX(0.9027);-webkit-text-stroke:0.23px #6f6f73;">status quo</div>
<div class="t" style="left:278.18px;top:740.20px;font-size:20.20px;font-weight:400;color:#111;transform:scaleX(0.9150);-webkit-text-stroke:0.30px #111;">Carbon Price</div>
<div class="t" style="left:360.40px;top:788.39px;font-size:15.60px;font-weight:700;color:#6f6f73;transform:scaleX(0.8947);-webkit-text-stroke:0.23px #6f6f73;">very high</div>
<div class="t" style="left:533.65px;top:484.60px;font-size:20.20px;font-weight:400;color:#111;transform:scaleX(0.9001);-webkit-text-stroke:0.30px #111;">Energy Efficiency</div>
<div class="t" style="left:591.28px;top:532.79px;font-size:15.60px;font-weight:700;color:#6f6f73;transform:scaleX(0.9102);-webkit-text-stroke:0.23px #6f6f73;">highly increased</div>
<div class="t" style="left:786.55px;top:484.60px;font-size:20.20px;font-weight:400;color:#111;transform:scaleX(0.9591);-webkit-text-stroke:0.30px #111;">Electrification</div>
<div class="t" style="left:835.87px;top:532.79px;font-size:15.60px;font-weight:700;color:#6f6f73;transform:scaleX(0.9206);-webkit-text-stroke:0.23px #6f6f73;">highly incentivized</div>
<div class="t" style="left:533.65px;top:598.40px;font-size:20.20px;font-weight:400;color:#111;transform:scaleX(0.9001);-webkit-text-stroke:0.30px #111;">Energy Efficiency</div>
<div class="t" style="left:591.28px;top:646.59px;font-size:15.60px;font-weight:700;color:#6f6f73;transform:scaleX(0.9102);-webkit-text-stroke:0.23px #6f6f73;">highly increased</div>
<div class="t" style="left:786.55px;top:598.40px;font-size:20.20px;font-weight:400;color:#111;transform:scaleX(0.9591);-webkit-text-stroke:0.30px #111;">Electrification</div>
<div class="t" style="left:835.87px;top:646.59px;font-size:15.60px;font-weight:700;color:#6f6f73;transform:scaleX(0.9206);-webkit-text-stroke:0.23px #6f6f73;">highly incentivized</div>
<div class="t" style="left:533.56px;top:712.40px;font-size:20.20px;font-weight:400;color:#111;transform:scaleX(0.9500);-webkit-text-stroke:0.30px #111;">Population</div>
<div class="t" style="left:611.91px;top:760.59px;font-size:15.60px;font-weight:700;color:#6f6f73;transform:scaleX(0.8976);-webkit-text-stroke:0.23px #6f6f73;">status quo</div>
<div class="t" style="left:786.61px;top:712.40px;font-size:20.20px;font-weight:400;color:#111;transform:scaleX(0.9203);-webkit-text-stroke:0.30px #111;">Economic Growth</div>
<div class="t" style="left:864.51px;top:760.59px;font-size:15.60px;font-weight:700;color:#6f6f73;transform:scaleX(0.8976);-webkit-text-stroke:0.23px #6f6f73;">status quo</div>
<div class="t" style="left:1042.57px;top:484.60px;font-size:20.20px;font-weight:400;color:#111;transform:scaleX(0.9453);-webkit-text-stroke:0.30px #111;">Deforestation</div>
<div class="t" style="left:1105.38px;top:532.79px;font-size:15.60px;font-weight:700;color:#6f6f73;transform:scaleX(0.9062);-webkit-text-stroke:0.23px #6f6f73;">highly reduced</div>
<div class="t" style="left:1295.65px;top:484.60px;font-size:20.20px;font-weight:400;color:#111;transform:scaleX(0.8973);-webkit-text-stroke:0.30px #111;">Methane &amp; Other Gases</div>
<div class="t" style="left:1358.58px;top:532.79px;font-size:15.60px;font-weight:700;color:#6f6f73;transform:scaleX(0.9044);-webkit-text-stroke:0.23px #6f6f73;">highly reduced</div>
<div class="t" style="left:1044.10px;top:598.40px;font-size:20.20px;font-weight:400;color:#111;transform:scaleX(0.9676);-webkit-text-stroke:0.30px #111;">Afforestation</div>
<div class="t" style="left:1120.50px;top:646.59px;font-size:15.60px;font-weight:700;color:#6f6f73;transform:scaleX(0.9079);-webkit-text-stroke:0.23px #6f6f73;">status quo</div>
<div class="t" style="left:1296.72px;top:598.40px;font-size:20.20px;font-weight:400;color:#111;transform:scaleX(0.9432);-webkit-text-stroke:0.30px #111;">Technological</div>
<div class="t" style="left:1368.08px;top:646.59px;font-size:15.60px;font-weight:700;color:#6f6f73;transform:scaleX(0.9040);-webkit-text-stroke:0.23px #6f6f73;">high growth</div>
<div class="t" style="left:1196.54px;top:767.81px;font-size:14.68px;font-weight:400;color:#111;transform:scaleX(0.8180);-webkit-text-stroke:0.22px #111;">Register Your En-ROADS Event</div>
<div class="t" style="left:1482.00px;top:804.12px;font-size:13.23px;font-weight:700;color:#c9c9c9;transform:scaleX(1.1158);-webkit-text-stroke:0.20px #c9c9c9;">v22.3</div>
<div class="t" style="left:1259.80px;top:167.16px;font-size:101.70px;font-weight:400;color:#1db1ea;transform:scaleX(0.8308);">+</div>
<div class="t" style="left:1390.10px;top:164.66px;font-size:101.70px;font-weight:400;color:#1db1ea;transform:scaleX(0.8115);">5</div>
<div class="t" style="left:1454.90px;top:146.62px;font-size:41.50px;font-weight:400;color:#1db1ea;transform:scaleX(0.7248);-webkit-text-stroke:1.1px #1db1ea;">C</div>
<div class="t" style="left:1331.28px;top:251.12px;font-size:33.72px;font-weight:400;color:#1db1ea;transform:scaleX(0.8702);-webkit-text-stroke:0.51px #1db1ea;">+2.6</div>
<div class="t" style="left:1390.73px;top:245.81px;font-size:14.97px;font-weight:400;color:#1db1ea;transform:scaleX(0.9367);-webkit-text-stroke:0.22px #1db1ea;">°F</div>
<div class="t" style="left:1353.20px;top:722.41px;font-size:14.39px;font-weight:700;color:#ababab;transform:scaleX(1.0675);-webkit-text-stroke:0.22px #ababab;">MANAGEMENT</div>
<div class="t" style="left:1360.99px;top:735.46px;font-size:10.21px;font-weight:400;color:#b9b9b9;transform:scaleX(1.1121);-webkit-text-stroke:0.15px #b9b9b9;">Sustainability Initiative</div>
<div class="t" style="left:37.94px;top:265.30px;font-size:12.70px;font-weight:700;color:#222;transform:rotate(-90deg) scaleX(0.9721);-webkit-text-stroke:0.22px #222;">Exajoules/year</div>
<div class="t" style="left:657.64px;top:308.19px;font-size:12.70px;font-weight:700;color:#222;transform:rotate(-90deg) scaleX(0.9562);-webkit-text-stroke:0.22px #222;">Gigatons CO2 equivalent/year</div>
</body></html>
